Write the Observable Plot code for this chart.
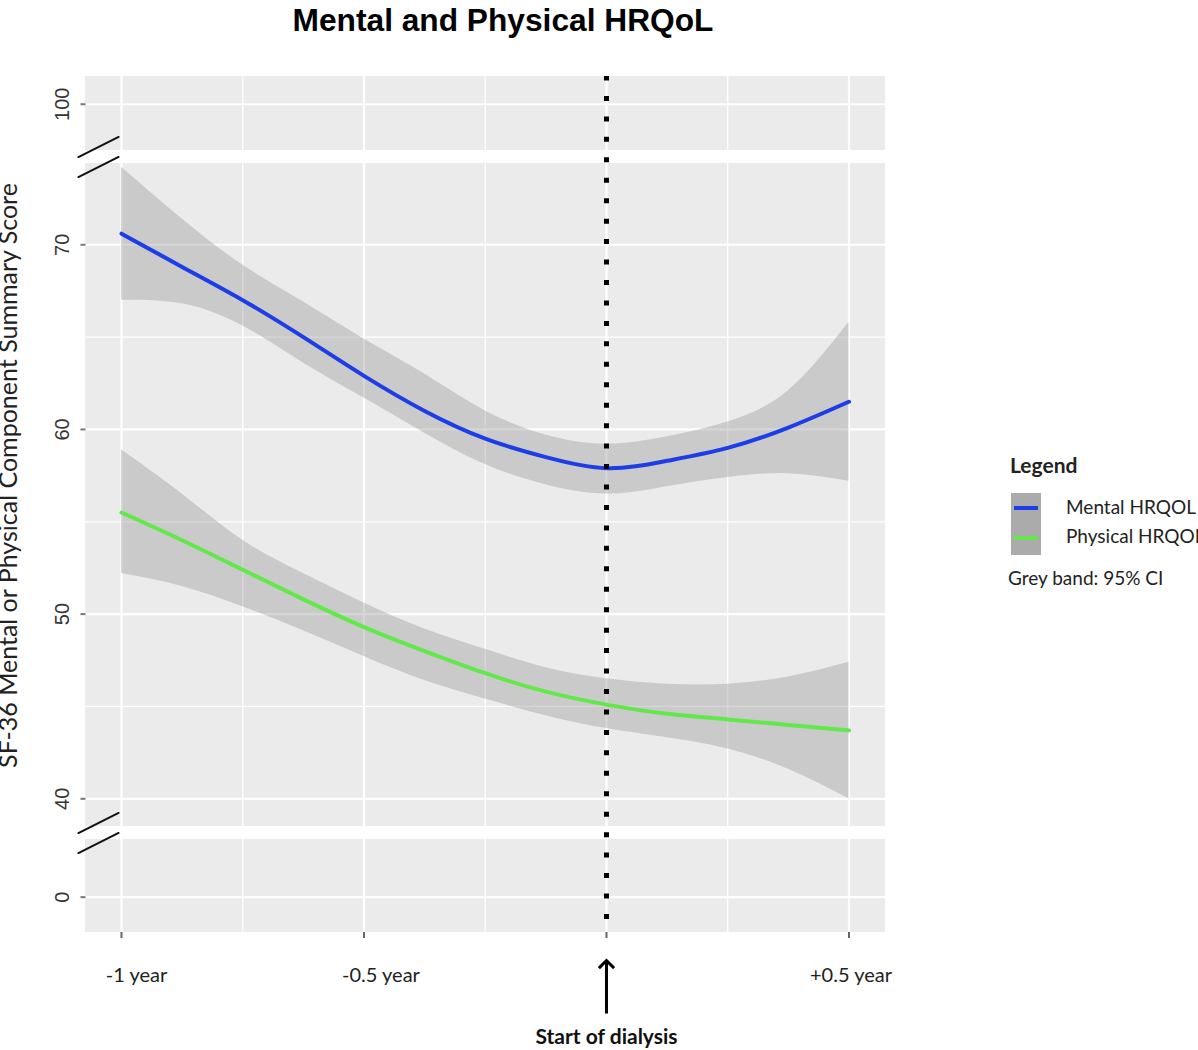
<!DOCTYPE html>
<html><head><meta charset="utf-8">
<script src="https://cdn.jsdelivr.net/npm/d3@7"></script>
<script src="https://cdn.jsdelivr.net/npm/@observablehq/plot@0.6"></script>
<style>
body{margin:0;background:#fff;}
#wrap{position:relative;width:1198px;height:1050px;overflow:hidden;}
#chart{position:absolute;left:0;top:0;}
#title{position:absolute;left:0;width:1006px;top:2px;line-height:36px;text-align:center;font:bold 31.7px "Liberation Sans",Arial,sans-serif;color:#000;}
#legend{position:absolute;left:0;top:0;font-family:Lato,sans-serif;color:#222;}
#legend div{position:absolute;white-space:nowrap;}
#legend .hd{left:1010px;top:451px;line-height:28px;font-weight:bold;font-size:21px;}
#legend .key{left:1011px;top:493px;width:30px;height:62px;background:#ababab;}
#legend .ln{left:3px;width:24px;height:4px;}
#legend .lab{left:1066px;font-size:19px;line-height:24px;}
#legend .note{left:1008px;top:566px;font-size:19px;line-height:24px;}
</style></head>
<body><div id="wrap"><div id="chart"></div><div id="title">Mental and Physical HRQoL</div><div id="legend"></div></div>
<script>
// ---- data ----
const years = [-1, -0.875, -0.75, -0.625, -0.5, -0.375, -0.25, -0.125, 0, 0.125, 0.25, 0.375, 0.5];
const mentalFit  = [70.6, 68.8, 67.0, 65.0, 62.9, 61.0, 59.5, 58.5, 57.9, 58.3, 59.0, 60.1, 61.5];
const mentalLow  = [67.0, 66.8, 65.6, 63.6, 61.7, 59.8, 58.1, 57.0, 56.5, 56.9, 57.4, 57.6, 57.2];
const mentalHigh = [74.2, 71.4, 68.9, 66.9, 64.9, 63.0, 61.0, 59.7, 59.2, 59.6, 60.4, 62.1, 65.8];
const physicalFit  = [55.5, 54.0, 52.4, 50.8, 49.3, 48.0, 46.8, 45.8, 45.1, 44.6, 44.3, 44.0, 43.7];
const physicalLow  = [52.2, 51.5, 50.4, 49.1, 47.7, 46.4, 45.4, 44.5, 43.8, 43.3, 42.7, 41.6, 40.0];
const physicalHigh = [58.9, 56.5, 54.0, 52.2, 50.6, 49.2, 48.1, 47.1, 46.5, 46.2, 46.2, 46.6, 47.4];
const seriesNames = ["Mental HRQOL", "Physical HRQOL"];
const seriesColors = ["#1d3de6", "#63e84c"];
const xTicks = [-1, -0.5, 0, 0.5];
const xTickLabels = ["-1 year", "-0.5 year", "", "+0.5 year"];
const xMinor = [-0.75, -0.25, 0.25];
const yTicks = [0, 40, 50, 60, 70, 100];
const yTickLabels = ["0", "40", "50", "60", "70", "100"];
const yMinor = [45, 55, 65];
const panels = [{y1: -1.9, y2: 3.1}, {y1: 38.5, y2: 74.4}, {y1: 97.5, y2: 101.5}];
const xDomain = [-1.0742, 0.5753];
const dialysisStart = 0;
const titleY = "SF-36 Mental or Physical Component Summary Score";
const annotation = "Start of dialysis";
const legendTitle = "Legend";
const legendNote = "Grey band: 95% CI";

// ---- layout ----
const W = 1198, H = 1050;
const segmentPx = [93, 13, 663, 13, 74]; // bottom panel, gap, middle panel, gap, top panel
const xLabelDx = [15, 17, 0, 2];

// broken axis: piecewise map of values onto stacked panel segments
const yBreakDomain = panels.flatMap(p => [p.y1, p.y2]);
const yBreakRange = [0, ...d3.cumsum(segmentPx)];
const brk = d3.scaleLinear().domain(yBreakDomain).range(yBreakRange);

const rows = [];
years.forEach((yr, i) => {
  rows.push({year: yr, series: seriesNames[0], fit: mentalFit[i], low: mentalLow[i], high: mentalHigh[i]});
  rows.push({year: yr, series: seriesNames[1], fit: physicalFit[i], low: physicalLow[i], high: physicalHigh[i]});
});
const vGrid = panels.flatMap(p => xTicks.map(x => ({x, y1: p.y1, y2: p.y2})));
const vGridMinor = panels.flatMap(p => xMinor.map(x => ({x, y1: p.y1, y2: p.y2})));
const gapMids = panels.slice(1).map((p, i) => (panels[i].y2 + p.y1) / 2);
const segment = {draw(ctx, l) { ctx.moveTo(0, 0); ctx.lineTo(0, -l); }};

const marks = [
  Plot.rect(panels, {y1: "y1", y2: "y2", fill: "#ebebeb"}),
  Plot.ruleY(yMinor, {stroke: "#fff", strokeWidth: 1.3}),
  Plot.ruleY(yTicks, {stroke: "#fff", strokeWidth: 2.2}),
  Plot.ruleX(vGridMinor, {x: "x", y1: "y1", y2: "y2", stroke: "#fff", strokeWidth: 1.3}),
  Plot.ruleX(vGrid, {x: "x", y1: "y1", y2: "y2", stroke: "#fff", strokeWidth: 2.2}),
  Plot.areaY(rows, {x: "year", y1: "low", y2: "high", z: "series", fill: "#999", fillOpacity: 0.4, curve: "natural"}),
  Plot.line(rows, {x: "year", y: "fit", z: "series", stroke: "series", strokeWidth: 4, curve: "natural"}),
  Plot.ruleX([dialysisStart], {x: d => d, stroke: "#000", strokeWidth: 5, strokeDasharray: "5,15.45", strokeDashoffset: 0.5}),
  // y ticks (short grey dashes left of the panels)
  Plot.vector(yTicks, {y: d => d, frameAnchor: "left", length: 5, rotate: -90, anchor: "start", shape: segment, stroke: "#777", strokeWidth: 2, strokeLinecap: "butt"}),
  Plot.axisX({ticks: xTicks, tickSize: 6, tickFormat: () => "", stroke: "#666", strokeWidth: 2, label: null}),
  Plot.text(yTicks, {y: d => d, text: (d, i) => yTickLabels[i], frameAnchor: "left", dx: -23, rotate: -90, textAnchor: "middle", lineAnchor: "middle", fontSize: 20, fontFamily: "Liberation Sans, Arial, sans-serif", fill: "#333"}),
  ...xTicks.map((t, i) => Plot.text([t], {x: d => d, text: () => xTickLabels[i], frameAnchor: "bottom", dy: 49, dx: xLabelDx[i], fontSize: 20, fontFamily: "Lato, sans-serif", fill: "#222"})),
  Plot.vector(gapMids, {y: d => d, frameAnchor: "left", dx: 13, dy: -10, length: 45, rotate: 63.4, anchor: "middle", shape: segment, stroke: "#111", strokeWidth: 2}),
  Plot.vector(gapMids, {y: d => d, frameAnchor: "left", dx: 13, dy: 10, length: 45, rotate: 63.4, anchor: "middle", shape: segment, stroke: "#111", strokeWidth: 2}),
  Plot.vector([dialysisStart], {x: d => d, frameAnchor: "bottom", dy: 81, length: 53, anchor: "start", rotate: 0, r: 2.5, shape: "arrow", stroke: "#000", strokeWidth: 3, strokeLinecap: "butt", strokeLinejoin: "miter"}),
  Plot.text([annotation], {x: () => dialysisStart, text: d => d, frameAnchor: "bottom", dy: 111, fontSize: 21, fontWeight: "bold", fontFamily: "Lato, sans-serif", fill: "#111"}),
  Plot.text([titleY], {text: d => d, frameAnchor: "left", dx: -69, dy: -29, rotate: -90, textAnchor: "middle", lineAnchor: "bottom", fontSize: 25, fontFamily: "Lato, sans-serif", fill: "#222"})
];

const chart = Plot.plot({
  width: W, height: H,
  marginLeft: 85, marginRight: W - 885, marginTop: 76, marginBottom: H - 932,
  x: {domain: xDomain, axis: null},
  y: {transform: brk, domain: [yBreakRange[0], yBreakRange[yBreakRange.length - 1]], axis: null},
  color: {domain: seriesNames, range: seriesColors},
  style: {background: "transparent", overflow: "visible"},
  marks
});
document.getElementById("chart").appendChild(chart);

// legend
const lg = document.getElementById("legend");
lg.innerHTML = `<div class="hd">${legendTitle}</div><div class="key">` +
  seriesColors.map((c, i) => `<div class="ln" style="top:${13 + i * 30}px;background:${c}"></div>`).join("") +
  `</div>` + seriesNames.map((n, i) => `<div class="lab" style="top:${495 + i * 29}px">${n}</div>`).join("") +
  `<div class="note">${legendNote}</div>`;
</script></body></html>
